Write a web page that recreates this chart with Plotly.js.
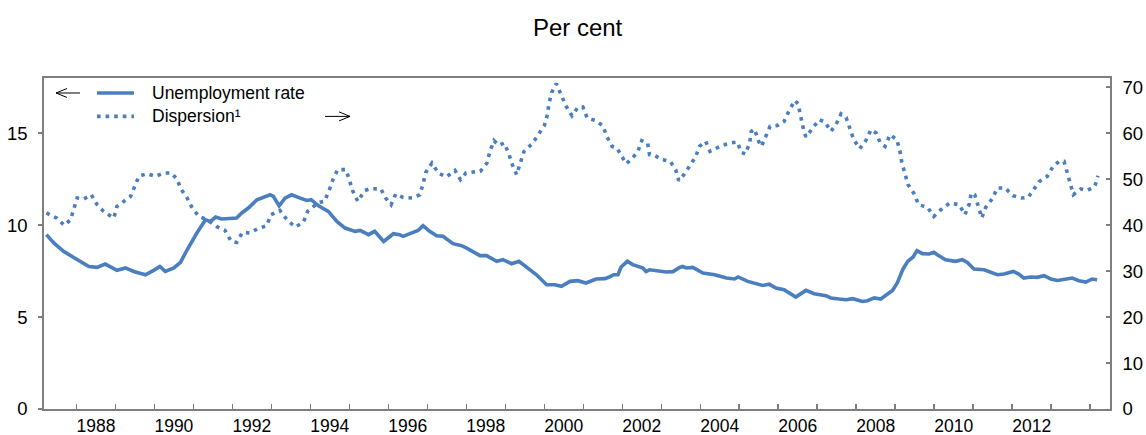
<!DOCTYPE html>
<html>
<head>
<meta charset="utf-8">
<script src="https://cdn.plot.ly/plotly-3.0.1.min.js"></script>
<style>html,body{margin:0;padding:0;background:#fff;}#chart{width:1146px;height:435px;}</style>
</head>
<body>
<div id="chart"></div>
<script>
// Unemployment rate (left axis, per cent)
const unempYears = [1987.23,1987.42,1987.67,1988.02,1988.32,1988.53,1988.74,1989.04,1989.26,1989.47,1989.77,1989.98,1990.14,1990.28,1990.50,1990.67,1990.84,1991.09,1991.31,1991.44,1991.57,1991.73,
1992.11,1992.24,1992.41,1992.63,1992.84,1992.97,1993.05,1993.20,1993.35,1993.52,1993.74,1993.91,1994.02,1994.21,1994.46,1994.68,1994.89,1995.15,1995.28,1995.49,1995.65,1995.88,1996.13,1996.29,
1996.38,1996.59,1996.76,1996.89,1997.06,1997.24,1997.40,1997.66,1997.88,1998.01,1998.35,1998.52,1998.78,1998.94,1999.16,1999.35,1999.54,1999.80,2000.06,2000.27,2000.44,2000.66,2000.86,
2001.07,2001.33,2001.55,2001.67,2001.78,2001.89,2001.97,2002.13,2002.27,2002.53,2002.61,2002.70,2002.91,2003.13,2003.30,2003.47,2003.55,2003.64,2003.81,2004.07,2004.37,2004.67,2004.88,2004.97,2005.22,2005.43,
2005.60,2005.77,2005.94,2006.15,2006.45,2006.71,2006.92,2007.22,2007.35,2007.56,2007.74,2007.91,2008.16,2008.29,2008.46,2008.63,2008.76,2008.93,2009.06,2009.19,2009.32,2009.46,2009.56,2009.70,2009.87,2009.99,
2010.08,2010.29,2010.55,2010.72,2010.85,2011.02,2011.28,2011.49,2011.62,2011.79,2012.03,2012.17,2012.30,2012.47,2012.64,2012.82,2012.99,2013.16,2013.37,2013.54,2013.71,2013.89,2014.05,2014.18];
const unempRate = [9.48,9.03,8.57,8.12,7.75,7.70,7.88,7.54,7.67,7.48,7.30,7.54,7.75,7.48,7.67,7.97,8.66,9.57,10.29,10.20,10.44,10.33,
10.39,10.66,10.93,11.38,11.56,11.65,11.56,11.05,11.47,11.65,11.47,11.34,11.38,11.05,10.75,10.20,9.84,9.66,9.71,9.48,9.66,9.11,9.53,9.48,
9.39,9.57,9.71,9.97,9.66,9.42,9.39,8.99,8.88,8.75,8.34,8.34,8.03,8.12,7.90,8.03,7.72,7.30,6.76,6.76,6.67,6.94,6.98,
6.85,7.07,7.09,7.18,7.30,7.30,7.72,8.03,7.85,7.67,7.48,7.57,7.52,7.45,7.47,7.70,7.75,7.67,7.70,7.39,7.30,7.12,7.07,7.18,6.94,6.83,
6.72,6.79,6.58,6.49,6.09,6.45,6.27,6.16,6.04,5.98,5.94,6.00,5.85,5.89,6.04,5.98,6.16,6.45,6.88,7.57,8.03,8.27,8.61,8.45,8.43,8.52,
8.39,8.12,8.03,8.12,7.97,7.61,7.57,7.39,7.30,7.34,7.48,7.34,7.12,7.18,7.16,7.25,7.07,6.99,7.07,7.12,6.98,6.90,7.07,7.03];

// Dispersion (right axis)
const dispYears = [1987.23,1987.49,1987.69,1987.85,1988.02,1988.19,1988.38,1988.53,1988.70,1988.96,1989.04,1989.17,1989.39,1989.49,1989.60,1989.81,1990.03,1990.24,1990.43,1990.58,1990.68,1990.84,1990.97,1991.14,1991.35,1991.59,
1991.81,1991.97,1992.11,1992.26,1992.45,1992.65,1992.88,1992.99,1993.22,1993.40,1993.61,1993.82,1993.93,1994.21,1994.36,1994.48,1994.58,1994.70,1994.91,1995.00,1995.08,1995.22,1995.39,1995.53,1995.81,1995.93,1996.07,1996.19,
1996.38,1996.62,1996.81,1996.89,1996.96,1997.12,1997.28,1997.49,1997.71,1997.85,1997.99,1998.19,1998.36,1998.53,1998.60,1998.71,1998.84,1998.97,1999.09,1999.18,1999.29,1999.39,1999.48,1999.69,1999.84,2000.00,2000.08,2000.12,2000.19,2000.31,2000.44,2000.55,2000.71,
2000.86,2000.99,2001.10,2001.30,2001.50,2001.61,2001.74,2001.86,2001.95,2002.10,2002.25,2002.40,2002.50,2002.65,2002.70,2002.83,2003.02,2003.23,2003.37,2003.45,2003.58,2003.73,2003.88,2003.98,2004.14,2004.25,2004.38,2004.56,2004.78,2004.95,2005.05,2005.16,2005.27,2005.31,2005.39,
2005.50,2005.57,2005.68,2005.79,2005.98,2006.15,2006.28,2006.43,2006.51,2006.56,2006.63,2006.71,2006.88,2007.05,2007.20,2007.35,2007.48,2007.61,2007.74,2007.84,2007.93,2008.09,2008.25,2008.38,2008.51,2008.62,2008.74,2008.87,2009.04,2009.12,2009.17,2009.25,2009.33,2009.49,2009.60,2009.83,2009.99,
2010.17,2010.40,2010.64,2010.79,2010.90,2010.95,2011.04,2011.13,2011.22,2011.32,2011.49,2011.62,2011.82,2012.02,2012.24,2012.41,2012.58,2012.70,2012.90,2013.05,2013.20,2013.33,2013.41,2013.48,2013.57,2013.76,2013.93,2014.12,2014.20];
const dispersion = [42.64,41.55,39.94,41.18,45.90,45.68,46.62,44.44,42.98,41.55,44.07,44.81,46.25,48.29,50.60,51.19,50.60,51.34,51.34,50.03,47.86,45.90,43.72,41.90,41.18,39.72,
38.85,36.46,36.24,38.42,38.29,39.22,39.87,42.27,43.20,41.18,39.59,40.59,42.98,44.94,45.16,47.49,49.88,52.06,52.06,49.88,47.55,45.16,47.49,47.92,47.86,45.90,44.44,46.77,
46.03,45.90,46.62,48.94,51.47,53.51,51.34,50.47,51.90,49.88,51.34,51.56,51.69,53.51,55.91,58.36,57.34,57.86,55.54,53.14,50.97,53.64,56.04,57.71,59.67,61.63,64.02,66.41,68.87,70.76,68.22,65.98,63.80,
65.60,65.69,63.30,62.78,61.63,59.17,57.12,56.78,55.38,53.36,54.45,56.04,58.36,57.86,55.32,55.17,54.23,53.86,52.06,49.66,50.97,52.93,54.82,57.12,58.21,56.04,56.62,57.34,57.86,58.08,55.82,55.47,57.99,60.39,60.91,
58.21,57.12,59.17,61.48,61.69,62.56,64.96,67.13,66.35,63.87,61.48,59.17,60.91,62.93,62.43,60.39,61.85,64.17,63.43,60.97,58.73,56.62,58.43,60.76,60.04,57.86,57.12,59.67,58.58,56.19,53.64,51.19,48.79,46.77,44.44,43.86,41.90,
43.35,44.81,44.44,42.27,44.59,46.99,46.62,44.22,41.55,43.86,45.75,48.08,48.08,46.40,45.90,46.03,48.08,49.51,50.60,52.77,53.86,53.86,51.47,49.01,46.62,47.86,47.55,48.42,50.75];

const yearTicks = [1988,1989,1990,1991,1992,1993,1994,1995,1996,1997,1998,1999,2000,2001,2002,2003,2004,2005,2006,2007,2008,2009,2010,2011,2012,2013,2014];
const yearLabels = ['1988','1990','1992','1994','1996','1998','2000','2002','2004','2006','2008','2010','2012'];
const leftTicks = [0,5,10,15];
const rightTicks = [0,10,20,30,40,50,60,70];
const seriesNames = ['Unemployment rate','Dispersion\u00b9'];

const blue = '#4a7ebf';
const axisGrey = '#7f7f7f';
const font = 'Liberation Sans, Arial, sans-serif';
const xRange = [1987.169, 2014.509];

const traces = [
  {x: unempYears, y: unempRate, type: 'scatter', mode: 'lines', name: seriesNames[0],
   line: {color: blue, width: 3.6}, xaxis: 'x', yaxis: 'y', showlegend: false, hoverinfo: 'skip'},
  {x: dispYears, y: dispersion, type: 'scatter', mode: 'lines', name: seriesNames[1],
   line: {color: blue, width: 3.6, dash: '3.6px,5px'}, xaxis: 'x', yaxis: 'y2', showlegend: false, hoverinfo: 'skip'}
];

const layout = {
  width: 1146, height: 435,
  margin: {l: 44, r: 36, t: 78, b: 26},
  paper_bgcolor: '#fff', plot_bgcolor: '#fff',
  font: {family: font, size: 18.5, color: '#000'},
  showlegend: false,
  title: {text: 'Per cent', x: 0.504, xanchor: 'center', y: 1 - 28/435, yanchor: 'middle',
          font: {family: font, size: 24, color: '#000'}},
  xaxis: {range: xRange, tickmode: 'array', tickvals: yearLabels.map(s => Number(s) + 0.5), ticktext: yearLabels,
          ticks: 'inside', ticklen: 0, tickwidth: 0, tickcolor: 'rgba(0,0,0,0)',
          minor: {tickmode: 'array', tickvals: yearTicks, ticks: 'inside', ticklen: 5, tickwidth: 1.5, tickcolor: axisGrey, showgrid: false},
          showline: true, linecolor: axisGrey, linewidth: 1.8, mirror: true,
          tickfont: {family: font, size: 17.5, color: '#000'}, ticklabelstandoff: 0,
          showgrid: false, zeroline: false, fixedrange: true},
  yaxis: {range: [0, 18], tickmode: 'array', tickvals: leftTicks, ticks: 'outside', ticklen: 4,
          tickwidth: 1.5, tickcolor: axisGrey, showline: true, linecolor: axisGrey, linewidth: 1.8,
          showgrid: false, zeroline: false, tickfont: {family: font, size: 18.5, color: '#000'},
          ticklabelstandoff: 7, fixedrange: true},
  yaxis2: {range: [0, 72], overlaying: 'y', side: 'right', anchor: 'x', tickmode: 'array', tickvals: rightTicks,
           ticks: 'inside', ticklen: 4, tickwidth: 1.5, tickcolor: axisGrey, showline: true,
           linecolor: axisGrey, linewidth: 1.8, showgrid: false, zeroline: false,
           tickfont: {family: font, size: 18.5, color: '#000'}, ticklabelstandoff: 7, fixedrange: true},
  shapes: [
    {type: 'line', xref: 'paper', yref: 'paper', x0: 0.0497, x1: 0.0844, y0: 0.9547, y1: 0.9547,
     line: {color: blue, width: 3.6}},
    {type: 'line', xref: 'paper', yref: 'paper', x0: 0.0497, x1: 0.0844, y0: 0.884, y1: 0.884,
     line: {color: blue, width: 3.6, dash: '3.6px,5px'}},
    {type: 'path', xref: 'paper', yref: 'paper',
     path: 'M0.0338,0.9547 L0.0113,0.9547 M0.0216,0.9683 L0.0113,0.9547 L0.0216,0.9411',
     line: {color: '#000', width: 1}},
    {type: 'path', xref: 'paper', yref: 'paper',
     path: 'M0.2636,0.884 L0.2871,0.884 M0.2768,0.8976 L0.2871,0.884 L0.2768,0.8704',
     line: {color: '#000', width: 1}}
  ],
  annotations: [
    {xref: 'paper', yref: 'paper', x: 0.0995, y: 0.9547, xanchor: 'left', yanchor: 'middle',
     text: seriesNames[0], showarrow: false, font: {family: font, size: 17.5, color: '#000'}},
    {xref: 'paper', yref: 'paper', x: 0.0995, y: 0.884, xanchor: 'left', yanchor: 'middle',
     text: seriesNames[1], showarrow: false, font: {family: font, size: 17.5, color: '#000'}}
  ]
};

Plotly.newPlot('chart', traces, layout, {displayModeBar: false, staticPlot: true});
</script>
</body>
</html>
